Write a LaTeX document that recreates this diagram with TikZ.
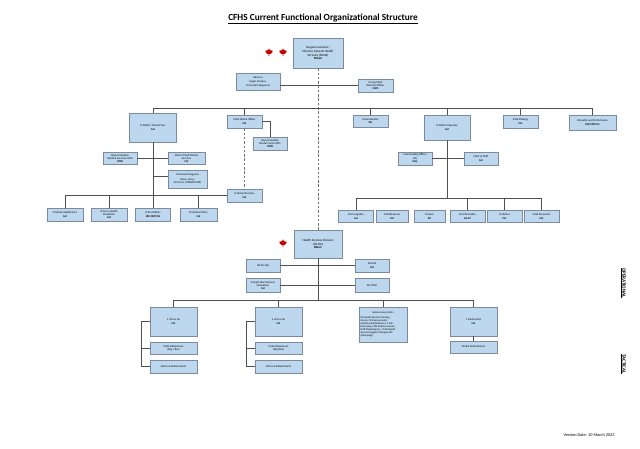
\documentclass[tikz,border=0pt]{standalone}
\usepackage{fontspec}
\setmainfont{Carlito}
\definecolor{boxfill}{RGB}{189,215,238}
\definecolor{boxline}{RGB}{125,138,158}
\definecolor{conn}{RGB}{80,80,80}
\definecolor{leafred}{RGB}{192,0,0}
\tikzset{
  box/.style={draw=boxline, fill=boxfill, line width=0.75pt, align=center, inner sep=0.5pt,
    font=\fontsize{2.8}{3.3}\selectfont},
  bigbox/.style={box, font=\fontsize{3.2}{3.8}\selectfont},
  cline/.style={draw=conn, line width=0.75pt},
  dline/.style={draw=conn!80, line width=0.75pt, dash pattern=on 2.5pt off 1.8pt},
  maple/.pic={
    \begin{scope}[yscale=-1]
    \fill[leafred] (0,4.6) -- (0.75,3.1) -- (1.45,3.5) -- (1.15,1.7) -- (2.2,2.8) -- (2.5,2.3)
      -- (3.6,2.5) -- (3.2,1.35) -- (3.75,1.05) -- (1.95,-0.4) -- (2.2,-1.1) -- (0.25,-0.9)
      -- (0.3,-3.0) -- (-0.3,-3.0) -- (-0.25,-0.9) -- (-2.2,-1.1) -- (-1.95,-0.4)
      -- (-3.75,1.05) -- (-3.2,1.35) -- (-3.6,2.5) -- (-2.5,2.3) -- (-2.2,2.8) -- (-1.15,1.7)
      -- (-1.45,3.5) -- (-0.75,3.1) -- cycle;
    \end{scope}
  }
}
\begin{document}
\begin{tikzpicture}[x=1pt,y=-1pt]
\fill[white] (0,0) rectangle (640,448);
\useasboundingbox (0,0) rectangle (640,448);

\node[font=\fontsize{9.3}{10}\selectfont\bfseries] (title) at (323,19) {\underline{CFHS Current Functional Organizational Structure}};

\pic at (269,53) {maple};
\pic at (283,53) {maple};
\pic at (283,244) {maple};

% top level
\node[bigbox, minimum width=50, minimum height=30] (dghs) at (318,53) {Surgeon General /\\Director General Health\\Services (DGHS)\\\textbf{MGen}};
\node[box, minimum width=44, minimum height=17] (adv) at (258,81.5) {Advisors\\[1.5pt](Legal, Finance,\\Command Surgeons)};
\node[box, minimum width=35, minimum height=13] (gcwo) at (375.5,85.5) {Group Chief\\Warrant Officer\\\textbf{CWO}};

% clinical
\node[box, minimum width=47, minimum height=29] (clin) at (153,127.5) {D DGHS / Clinical Svcs\\\textbf{Col}};
\node[box, minimum width=34, minimum height=12] (rcms) at (120,158.5) {Royal Canadian\\Medical Services CWO\\\textbf{CWO}};
\node[box, minimum width=37, minimum height=12] (cosclin) at (186.5,158.5) {Chief of Staff Clinical\\Services\\\textbf{Col}};
\node[box, minimum width=39, minimum height=18] (cmds) at (187.5,179) {Command Surgeons\\[1.5pt](Navy, Army,\\Air Force, CANSOFCOM)};
\node[box, minimum width=36, minimum height=13] (dmh) at (65,214.5) {D Mental Health Svcs\\\textbf{Col}};
\node[box, minimum width=36, minimum height=13] (dfhp) at (109,214.5) {D Force Health\\Protection\\\textbf{Col}};
\node[box, minimum width=35, minimum height=13] (dpa) at (153,214.5) {D Prof Affairs\\\textbf{MD MOP 06}};
\node[box, minimum width=37, minimum height=13] (dmp) at (198.5,214.5) {D Medical Policy\\\textbf{Col}};

% dental
\node[box, minimum width=35, minimum height=13] (cdo) at (244.5,121.5) {Chief Dental Officer\\\textbf{Col}};
\node[box, minimum width=34, minimum height=13] (rcdc) at (270,143.5) {Royal Canadian\\Dental Corps CWO\\\textbf{CWO}};
\node[box, minimum width=35, minimum height=13] (dds) at (244.5,195.5) {D Dental Services\\\textbf{Col}};

% corporate
\node[box, minimum width=35, minimum height=12] (hssec) at (370.5,121) {HS Secretariat\\\textbf{Cdr}};
\node[box, minimum width=46, minimum height=25] (corp) at (447,127.5) {D DGHS Corporate\\\textbf{Col}};
\node[box, minimum width=34, minimum height=13] (cohq) at (415,158.5) {Commanding Officer\\HQ\\\textbf{Maj}};
\node[box, minimum width=34, minimum height=13] (cos) at (481,158.5) {Chief of Staff\\\textbf{Col}};
\node[box, minimum width=35, minimum height=13] (strat) at (520.5,121.5) {D HS Strategy\\\textbf{Col}};
\node[box, minimum width=47, minimum height=15] (qual) at (592.5,122.5) {D Quality and Performance\\\textbf{MD MOP 04}};
\node[box, minimum width=35, minimum height=12] (log) at (356,216.5) {D HS Logistics\\\textbf{Col}};
\node[box, minimum width=32, minimum height=12] (res) at (392,216.5) {D HS Reserves\\\textbf{Col}};
\node[box, minimum width=31, minimum height=12] (fin) at (429.5,216.5) {Finance\\\textbf{EX}};
\node[box, minimum width=35, minimum height=12] (inf) at (467.5,216.5) {HS Informatics\\\textbf{AS-07}};
\node[box, minimum width=35, minimum height=12] (del) at (504.5,216.5) {D HS Del\\\textbf{Col}};
\node[box, minimum width=35, minimum height=12] (pers) at (541.5,216.5) {D HS Personnel\\\textbf{Col}};

% HS Div
\node[bigbox, minimum width=48, minimum height=28] (hsdiv) at (318,244) {Health Services Division\\(HS Div)\\\textbf{BGen}};
\node[box, minimum width=34, minimum height=13] (hq) at (263,265.5) {HS Div HQ};
\node[box, minimum width=34, minimum height=13] (dcomd) at (372,265.5) {DComd\\\textbf{Col}};
\node[box, minimum width=34, minimum height=14] (compt) at (263,285.5) {Comptroller/Services\\Operations\\\textbf{Col}};
\node[box, minimum width=34, minimum height=14] (divcwo) at (372,285.5) {Div CWO};

% tactical
\node[box, minimum width=47, minimum height=29] (g1) at (173.5,321.5) {1 H Svcs Gp\\\textbf{Col}};
\node[box, minimum width=47, minimum height=12] (fa1) at (173.5,348) {Field Ambulances\\(Reg / Res)};
\node[box, minimum width=47, minimum height=13] (cl1) at (173.5,366.5) {Clinics \& Detachments};
\node[box, minimum width=47, minimum height=29] (g4) at (278.5,321.5) {4 H Svcs Gp\\\textbf{Col}};
\node[box, minimum width=47, minimum height=12] (fa4) at (278.5,348) {Field Ambulances\\(Reg/Res)};
\node[box, minimum width=47, minimum height=13] (cl4) at (278.5,366.5) {Clinics \& Detachments};
\node[box, font=\fontsize{2.6}{3.05}\selectfont, minimum width=48, minimum height=35] (nlu) at (383,324.5)
  {\parbox{45pt}{\centering National Level Units\par\vspace{1.5pt}\raggedright
  (CF Health Services Training\\Centre, CF Environmental\\Medicine Establishment, 1 Cdn\\Field Hosp, CDN Defence Liaison\\Staff (Washington), 1 CAD Health\\Services Support (Wing Health\\(Winnipeg))\par}};
\node[box, minimum width=47, minimum height=29] (du) at (473.5,321.5) {1 Dental Unit\\\textbf{Col}};
\node[box, minimum width=47, minimum height=12] (ddet) at (473.5,347) {Dental Detachments};

% labels
\node[rotate=-90, font=\fontsize{5}{6}\selectfont\bfseries] (oplab) at (623,283) {\underline{OPERATIONAL}};
\node[rotate=-90, font=\fontsize{5}{6}\selectfont\bfseries] (taclab) at (623,364) {\underline{TACTICAL}};
\node[anchor=east, font=\fontsize{4.3}{5}\selectfont] (ver) at (618,435) {Version Date: 10 March 2023};

% coordinates
\coordinate (tb) at (0,108);
\coordinate (cb) at (0,198);
\coordinate (gb) at (0,300);
\coordinate (b1) at (141,0);
\coordinate (b4) at (246,0);
\coordinate (cmdsin) at ([yshift=3pt]cmds.west);

% connectors
\draw[dline] (dghs.south) -- (hsdiv.north);
\draw[dline] (cdo.south) -- (dds.north);
\draw[cline] (adv.east |- gcwo.west) -- (gcwo.west);

\draw[cline] (clin.north) -- (clin.north |- tb) -- (qual.north |- tb) -- (qual.north);
\foreach \n in {cdo,hssec,corp,strat} \draw[cline] (\n.north) -- (\n.north |- tb);

\draw[cline] (clin.south) -- (clin.south |- dds.west);
\draw[cline] (dmh.north) |- (dds.west);
\foreach \n in {dfhp,dpa,dmp} \draw[cline] (\n.north) -- (\n.north |- dds.west);
\draw[cline] (rcms.east) -- (cosclin.west);
\draw[cline] (clin.south |- cmdsin) -- (cmdsin);

\draw[cline] (cdo.east) -| (rcdc.north);

\draw[cline] (corp.south) -- (corp.south |- cb);
\draw[cline] (cohq.east) -- (cos.west);
\draw[cline] (log.north) -- (log.north |- cb) -- (pers.north |- cb) -- (pers.north);
\foreach \n in {inf,del} \draw[cline] (\n.north) -- (\n.north |- cb);

\draw[cline] (hsdiv.south) -- (hsdiv.south |- gb);
\draw[cline] (hq.east) -- (dcomd.west);
\draw[cline] (compt.east) -- (divcwo.west);
\draw[cline] (g1.north) -- (g1.north |- gb) -- (du.north |- gb) -- (du.north);
\foreach \n in {g4,nlu} \draw[cline] (\n.north) -- (\n.north |- gb);

\draw[cline] (g1.west) -- (g1.west -| b1) |- (cl1.west);
\draw[cline] (fa1.west) -- (fa1.west -| b1);
\draw[cline] (g4.west) -- (g4.west -| b4) |- (cl4.west);
\draw[cline] (fa4.west) -- (fa4.west -| b4);
\draw[cline] (du.south) -- (ddet.north);
\end{tikzpicture}
\end{document}
